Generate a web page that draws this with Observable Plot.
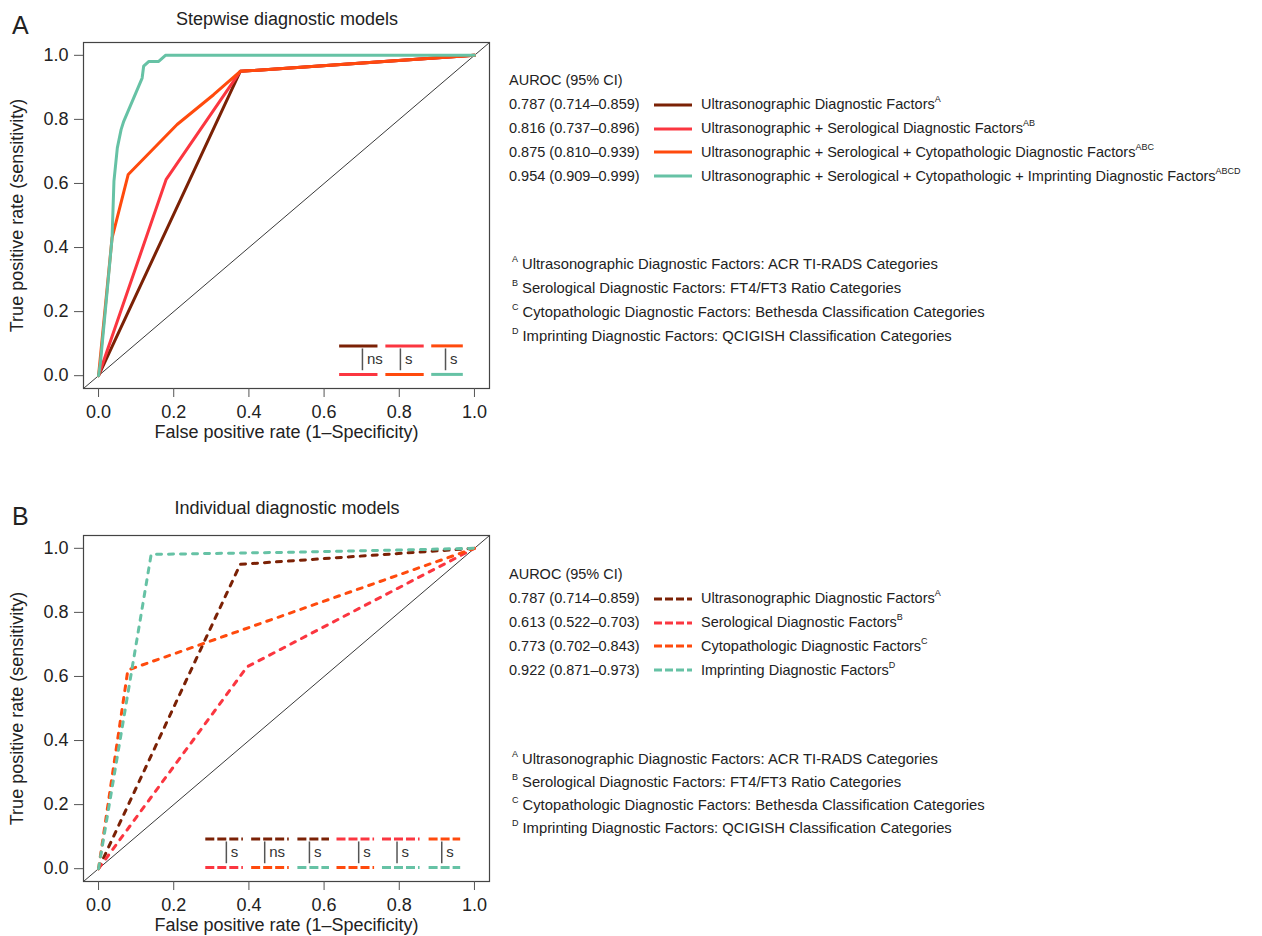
<!DOCTYPE html>
<html><head><meta charset="utf-8">
<script src="https://cdn.jsdelivr.net/npm/d3@7"></script>
<script src="https://cdn.jsdelivr.net/npm/@observablehq/plot@0.6"></script>
<style>
body{margin:0;background:#fff;font-family:"Liberation Sans",Arial,Helvetica,sans-serif;color:#222;}
#root{position:relative;width:1262px;height:936px;overflow:hidden;background:#fff;}
.abs{position:absolute;white-space:nowrap;}
.plot{position:absolute;left:0;}
sup{font-size:9px;vertical-align:0;position:relative;top:-7px;}
</style></head><body><div id="root"></div>
<script>
// ---------- data ----------
const tickValues = [0, 0.2, 0.4, 0.6, 0.8, 1.0];

// Panel A: stepwise models
const stepTitle = "Stepwise diagnostic models";
const stepLabels = [
  "Ultrasonographic Diagnostic Factors",
  "Ultrasonographic + Serological Diagnostic Factors",
  "Ultrasonographic + Serological + Cytopathologic Diagnostic Factors",
  "Ultrasonographic + Serological + Cytopathologic + Imprinting Diagnostic Factors"
];
const stepSup = ["A", "AB", "ABC", "ABCD"];
const stepAuroc = ["0.787 (0.714–0.859)", "0.816 (0.737–0.896)", "0.875 (0.810–0.939)", "0.954 (0.909–0.999)"];
const stepFpr = [
  [0, 0.377, 1],
  [0, 0.180, 0.377, 1],
  [0, 0.036, 0.079, 0.209, 0.306, 0.377, 1],
  [0, 0.005, 0.023, 0.036, 0.041, 0.050, 0.060, 0.067, 0.116, 0.120, 0.134, 0.160, 0.178, 1]
];
const stepTpr = [
  [0, 0.950, 1],
  [0, 0.613, 0.950, 1],
  [0, 0.430, 0.628, 0.784, 0.877, 0.950, 1],
  [0, 0.040, 0.265, 0.430, 0.607, 0.711, 0.768, 0.794, 0.929, 0.966, 0.981, 0.981, 1.0, 1]
];
const stepTests = [[0, 1, "ns"], [1, 2, "s"], [2, 3, "s"]];

// Panel B: individual models
const indTitle = "Individual diagnostic models";
const indLabels = [
  "Ultrasonographic Diagnostic Factors",
  "Serological Diagnostic Factors",
  "Cytopathologic Diagnostic Factors",
  "Imprinting Diagnostic Factors"
];
const indSup = ["A", "B", "C", "D"];
const indAuroc = ["0.787 (0.714–0.859)", "0.613 (0.522–0.703)", "0.773 (0.702–0.843)", "0.922 (0.871–0.973)"];
const indFpr = [
  [0, 0.377, 1],
  [0, 0.395, 1],
  [0, 0.078, 1],
  [0, 0.140, 0.530, 1]
];
const indTpr = [
  [0, 0.950, 1],
  [0, 0.630, 1],
  [0, 0.620, 1],
  [0, 0.981, 0.988, 1]
];
const indTests = [[0, 1, "s"], [0, 2, "ns"], [0, 3, "s"], [1, 2, "s"], [1, 3, "s"], [2, 3, "s"]];

// Footnotes
const footSup = ["A", "B", "C", "D"];
const footText = [
  "Ultrasonographic Diagnostic Factors: ACR TI-RADS Categories",
  "Serological Diagnostic Factors: FT4/FT3 Ratio Categories",
  "Cytopathologic Diagnostic Factors: Bethesda Classification Categories",
  "Imprinting Diagnostic Factors: QCIGISH Classification Categories"
];
const legendHeader = "AUROC (95% CI)";
const xLabel = "False positive rate (1–Specificity)";
const yLabel = "True positive rate (sensitivity)";

// ---------- styles / layout ----------
const palette = ["#7b2105", "#fb3640", "#ff4a0d", "#66c2a5"];
const domain = [-0.04, 1.04];
const FONT = "'Liberation Sans', Arial, Helvetica, sans-serif";
const insetA = {starts: [0.640, 0.763, 0.885], lens: [0.102, 0.102, 0.084], bars: [0.702, 0.803, 0.923]};
const insetB = {starts: [0.284, 0.406, 0.529, 0.633, 0.754, 0.878], lens: [0.1, 0.1, 0.084, 0.1, 0.1, 0.084], bars: [0.340, 0.442, 0.561, 0.692, 0.794, 0.913]};

const root = document.getElementById("root");

function makePanel(fpr, tpr, tests, inset, dashed) {
  const marks = [];
  // diagonal reference
  marks.push(Plot.line(domain, {x: d => d, y: d => d, stroke: "#222", strokeWidth: 0.9}));
  fpr.forEach((xs, i) => {
    const pts = xs.map((x, j) => ({x, y: tpr[i][j]}));
    marks.push(Plot.line(pts, {x: "x", y: "y", stroke: palette[i], strokeWidth: 3,
      strokeDasharray: dashed ? "5,7" : null, strokeLinejoin: "round"}));
  });
  // inset comparison legend
  const segs = [];
  const bars = [];
  tests.forEach(([a, b, p], g) => {
    const x1 = inset.starts[g], x2 = x1 + inset.lens[g];
    segs.push({x1, x2, y: 0.093, c: palette[a]});
    segs.push({x1, x2, y: 0.004, c: palette[b]});
    bars.push({x: inset.bars[g], p});
  });
  marks.push(Plot.link(segs, {x1: "x1", x2: "x2", y1: "y", y2: "y", stroke: d => d.c, strokeWidth: 3,
    strokeDasharray: dashed ? "9,3" : null}));
  marks.push(Plot.link(bars, {x1: "x", x2: "x", y1: 0.085, y2: 0.017, stroke: "#555", strokeWidth: 1.5}));
  marks.push(Plot.text(bars, {x: d => d.x + 0.012, y: 0.05, text: "p", textAnchor: "start", fontSize: 15, fill: "#333"}));
  marks.push(Plot.frame({stroke: "#444", strokeWidth: 1.2}));
  marks.push(Plot.axisX(tickValues, {tickSize: 9, tickPadding: 8, tickFormat: d3.format(".1f"), stroke: "#555", fill: "#222",
    label: xLabel, labelAnchor: "center", labelOffset: 49, labelArrow: "none"}));
  marks.push(Plot.axisY(tickValues, {tickSize: 9, tickPadding: 6, tickFormat: d3.format(".1f"), stroke: "#555", fill: "#222",
    label: yLabel, labelAnchor: "center", labelOffset: 73, labelArrow: "none"}));
  return Plot.plot({
    width: 500, height: 448,
    marginLeft: 83, marginRight: 11, marginTop: 42, marginBottom: 60,
    x: {domain}, y: {domain},
    color: {type: "identity"},
    style: {fontSize: "18px", fontFamily: FONT, color: "#222", background: "transparent", overflow: "visible"},
    marks
  });
}

function addText(txt, left, cy, size, extra = {}) {
  const d = document.createElement("div");
  d.className = "abs";
  d.style.left = left + "px";
  d.style.top = (cy - size * 0.6) + "px";
  d.style.fontSize = size + "px";
  d.style.lineHeight = (size * 1.2) + "px";
  Object.assign(d.style, extra);
  if (typeof txt === "string") d.textContent = txt; else d.appendChild(txt);
  root.appendChild(d);
  return d;
}

function swatch(color, dashed) {
  const ns = "http://www.w3.org/2000/svg";
  const s = document.createElementNS(ns, "svg");
  s.setAttribute("width", 38); s.setAttribute("height", 6);
  const l = document.createElementNS(ns, "line");
  l.setAttribute("x1", 0); l.setAttribute("x2", 38); l.setAttribute("y1", 3); l.setAttribute("y2", 3);
  l.setAttribute("stroke", color); l.setAttribute("stroke-width", 3);
  if (dashed) l.setAttribute("stroke-dasharray", "8,3");
  s.appendChild(l);
  return s;
}

function drawPanel(top, letter, letterY, title, titleY, fpr, tpr, tests, inset, dashed, labels, sups, aurocs, legendTop, footTop, footStep) {
  const svg = makePanel(fpr, tpr, tests, inset, dashed);
  const wrap = document.createElement("div");
  wrap.className = "plot";
  wrap.style.top = top + "px";
  wrap.appendChild(svg);
  root.appendChild(wrap);
  addText(letter, 12, top + letterY, 25, {fontFamily: FONT});
  addText(title, 0, top + titleY, 18, {width: "574px", textAlign: "center"});
  addText(legendHeader, 509, top + legendTop, 14.5);
  labels.forEach((lab, i) => {
    const cy = top + legendTop + 23.8 * (i + 1);
    addText(aurocs[i], 509, cy, 14.5);
    addText(swatch(palette[i], dashed), 654, cy, 6, {lineHeight: "6px", top: (cy - 3) + "px"});
    const span = document.createElement("span");
    span.textContent = lab;
    const sp = document.createElement("sup");
    sp.textContent = sups[i];
    span.appendChild(sp);
    addText(span, 701, cy, 14.5);
  });
  footText.forEach((f, i) => {
    const cy = top + footTop + footStep * i;
    const span = document.createElement("span");
    const sp = document.createElement("sup");
    sp.textContent = footSup[i];
    sp.style.marginRight = "4px";
    span.appendChild(sp);
    span.appendChild(document.createTextNode(f));
    addText(span, 512, cy, 14.8);
  });
}

drawPanel(0, "A", 25, stepTitle, 20, stepFpr, stepTpr, stepTests, insetA, false, stepLabels, stepSup, stepAuroc, 81, 265, 24);
drawPanel(493, "B", 23, indTitle, 16, indFpr, indTpr, indTests, insetB, true, indLabels, indSup, indAuroc, 82, 267, 23);
</script></body></html>
